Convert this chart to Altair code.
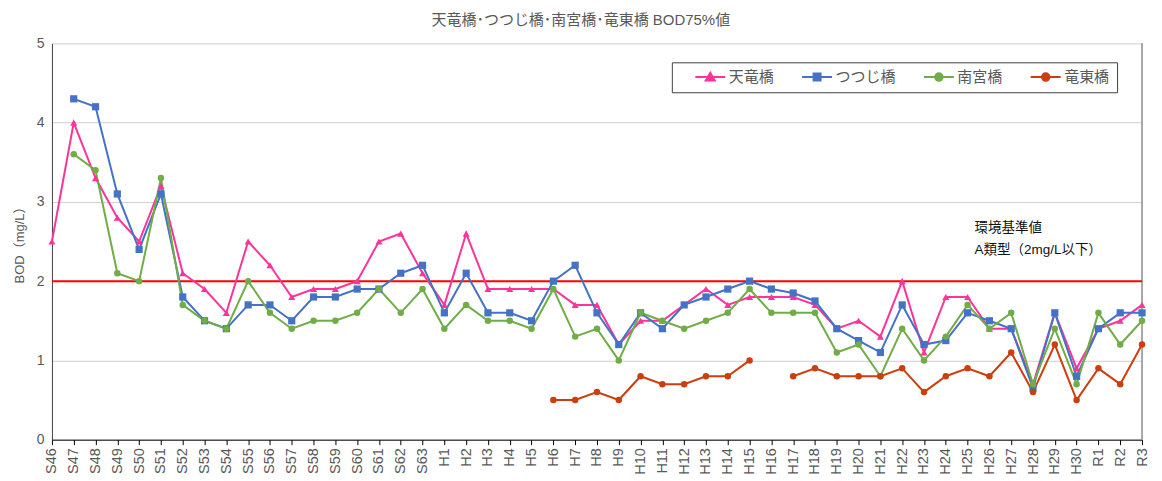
import altair as alt
import pandas as pd

categories = [
    "S46", "S47", "S48", "S49", "S50", "S51", "S52", "S53", "S54", "S55", "S56", "S57",
    "S58", "S59", "S60", "S61", "S62", "S63",
    "H1", "H2", "H3", "H4", "H5", "H6", "H7", "H8", "H9", "H10", "H11", "H12", "H13",
    "H14", "H15", "H16", "H17", "H18", "H19", "H20", "H21", "H22", "H23", "H24", "H25",
    "H26", "H27", "H28", "H29", "H30",
    "R1", "R2", "R3",
]

series_names = ["天竜橋", "つつじ橋", "南宮橋", "竜東橋"]
series_colors = ["#FF3399", "#4472C4", "#70AD47", "#CC3F0C"]

tenryu = [2.5, 4.0, 3.3, 2.8, 2.5, 3.2, 2.1, 1.9, 1.6, 2.5, 2.2, 1.8, 1.9, 1.9, 2.0, 2.5, 2.6, 2.1,
          1.7, 2.6, 1.9, 1.9, 1.9, 1.9, 1.7, 1.7, 1.2, 1.5, 1.5, 1.7, 1.9, 1.7, 1.8, 1.8, 1.8,
          1.7, 1.4, 1.5, 1.3, 2.0, 1.1, 1.8, 1.8, 1.4, 1.4, 0.7, 1.6, 0.9,
          1.4, 1.5, 1.7]
tsutsuji = [None, 4.3, 4.2, 3.1, 2.4, 3.1, 1.8, 1.5, 1.4, 1.7, 1.7, 1.5, 1.8, 1.8, 1.9, 1.9, 2.1, 2.2,
            1.6, 2.1, 1.6, 1.6, 1.5, 2.0, 2.2, 1.6, 1.2, 1.6, 1.4, 1.7, 1.8, 1.9, 2.0, 1.9, 1.85,
            1.75, 1.4, 1.25, 1.1, 1.7, 1.2, 1.25, 1.6, 1.5, 1.4, 0.65, 1.6, 0.8,
            1.4, 1.6, 1.6]
nangu = [None, 3.6, 3.4, 2.1, 2.0, 3.3, 1.7, 1.5, 1.4, 2.0, 1.6, 1.4, 1.5, 1.5, 1.6, 1.9, 1.6, 1.9,
         1.4, 1.7, 1.5, 1.5, 1.4, 1.9, 1.3, 1.4, 1.0, 1.6, 1.5, 1.4, 1.5, 1.6, 1.9, 1.6, 1.6,
         1.6, 1.1, 1.2, 0.8, 1.4, 1.0, 1.3, 1.7, 1.4, 1.6, 0.7, 1.4, 0.7,
         1.6, 1.2, 1.5]
ryuto = [None] * 18 + [None, None, None, None, None,
         0.5, 0.5, 0.6, 0.5, 0.8, 0.7, 0.7, 0.8, 0.8, 1.0, None, 0.8,
         0.9, 0.8, 0.8, 0.8, 0.9, 0.6, 0.8, 0.9, 0.8, 1.1, 0.6, 1.2, 0.5,
         0.9, 0.7, 1.2]

standard_value = [2.0]
ann_lines = ["環境基準値", "A類型（2mg/L以下）"]
ann_y = [2.67, 2.39]
ann_cat = ["H25", "H25"]

marker_shapes = ["triangle-up", "square", "circle", "circle"]
marker_sizes = [50, 52, 42, 42]

# legend symbols: line segment plus marker (custom paths)
legend_paths = [
    "M-1,0L5,0M2,-0.85L2.9,0.7L1.1,0.7Z",
    "M-1,0L5,0M1.3,-0.7L2.7,-0.7L2.7,0.7L1.3,0.7Z",
    "M-1,0L5,0M1.25,0A0.75,0.75 0 1,1 2.75,0A0.75,0.75 0 1,1 1.25,0Z",
    "M-1,0L5,0M1.25,0A0.75,0.75 0 1,1 2.75,0A0.75,0.75 0 1,1 1.25,0Z",
]

FONT = "Liberation Sans, Noto Sans CJK JP"

rows = []
for name, vals in zip(series_names, [tenryu, tsutsuji, nangu, ryuto]):
    for i, (c, v) in enumerate(zip(categories, vals)):
        rows.append({"series": name, "cat": c, "idx": i, "value": v})
df = pd.DataFrame(rows)

stroke_scale = alt.Scale(domain=series_names, range=series_colors)
fill_scale = alt.Scale(domain=series_names, range=series_colors)
shape_scale = alt.Scale(domain=series_names, range=legend_paths)

x_enc = alt.X(
    "cat:N",
    sort=categories,
    scale=alt.Scale(domain=categories, type="point", padding=0),
    axis=alt.Axis(
        title=None, labelAngle=270, labelFontSize=14.5, labelColor="#595959",
        labelFont=FONT, tickSize=5, tickColor="#000000", domainColor="#000000",
        labelPadding=3, grid=False, labelOverlap=False,
    ),
)
y_enc = alt.Y(
    "value:Q",
    scale=alt.Scale(domain=[0, 5], nice=False, zero=True),
    axis=alt.Axis(
        title="BOD（mg/L）", values=[0, 1, 2, 3, 4, 5], format="d", grid=True,
        gridColor="#cfcfcf", ticks=False, domainColor="#404040", labelFontSize=14,
        labelColor="#595959", labelFont=FONT, labelPadding=8, titleFontSize=13,
        titleColor="#595959", titleFont=FONT, titleFontWeight="normal", titlePadding=10,
    ),
)

legend = alt.Legend(
    title="\u00a0", titleOrient="left", titlePadding=14, titleFontSize=4,
    orient="none", legendX=621, legendY=19, direction="horizontal",
    strokeColor="#404040", fillColor="#ffffff", padding=7,
    labelFontSize=15, labelColor="#595959", labelFont=FONT, labelOffset=21,
    symbolSize=100, symbolStrokeWidth=2, symbolOpacity=1, columnPadding=23,
)
legend_df = pd.DataFrame({"series": series_names})
legend_layer = alt.Chart(legend_df).transform_filter("false").mark_point(filled=True).encode(
    fill=alt.Fill("series:N", scale=fill_scale, legend=legend),
    stroke=alt.Stroke("series:N", scale=stroke_scale, legend=legend),
    shape=alt.Shape("series:N", scale=shape_scale, legend=legend),
)

base = alt.Chart(df)

lines = base.mark_line(strokeWidth=2, invalid="break-paths-show-domains").encode(
    x=x_enc,
    y=y_enc,
    stroke=alt.Stroke("series:N", scale=stroke_scale, legend=None),
    order=alt.Order("idx:Q"),
)

point_layers = []
for name, shp, sz in zip(series_names, marker_shapes, marker_sizes):
    point_layers.append(
        base.transform_filter(
            (alt.datum.series == name) & alt.expr.isValid(alt.datum.value)
        ).mark_point(filled=True, shape=shp, size=sz, opacity=1).encode(
            x=x_enc,
            y=y_enc,
            fill=alt.Fill("series:N", scale=fill_scale, legend=None),
        )
    )

std_df = pd.DataFrame({"std": standard_value})
std_rule = alt.Chart(std_df).mark_rule(color="#FF0000", strokeWidth=2).encode(
    y=alt.Y("std:Q", scale=alt.Scale(domain=[0, 5], nice=False))
)

right_df = pd.DataFrame({"cat": [categories[-1]]})
right_border = alt.Chart(right_df).mark_rule(color="#8c8c8c", strokeWidth=1.5).encode(
    x=alt.X("cat:N", sort=categories, scale=alt.Scale(domain=categories, type="point", padding=0))
)

ann_df = pd.DataFrame({"cat": ann_cat, "value": ann_y, "text": ann_lines})
ann = alt.Chart(ann_df).mark_text(
    align="left", baseline="middle", dx=7, fontSize=13.5, color="#111111", font=FONT
).encode(x=x_enc, y=y_enc, text="text:N")

chart = alt.layer(
    legend_layer, right_border, std_rule, lines, *point_layers, ann
).properties(
    width=1092,
    height=397,
    title=alt.TitleParams(
        "天竜橋･つつじ橋･南宮橋･竜東橋 BOD75%値", fontSize=15, color="#595959",
        font=FONT, fontWeight="normal", offset=8, anchor="middle", frame="bounds",
    ),
).configure_view(stroke=None).configure_axis(domainWidth=1)

chart.save("out.html", embed_options={"renderer": "svg", "actions": False})
